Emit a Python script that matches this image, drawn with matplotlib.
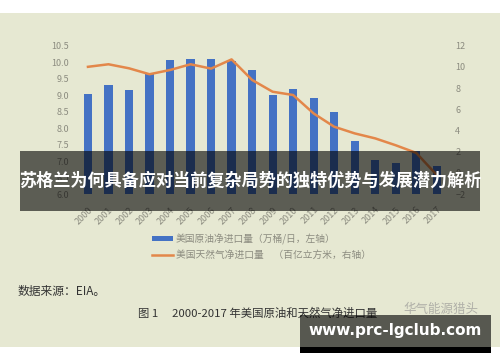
import matplotlib
matplotlib.use("Agg")
import matplotlib.pyplot as plt
from matplotlib.patches import Rectangle
import numpy as np

plt.rcParams["font.family"] = ["Noto Sans CJK SC", "DejaVu Sans"]

years = [str(y) for y in range(2000, 2018)]
oil = [9.04, 9.32, 9.16, 9.65, 10.07, 10.10, 10.10, 10.04, 9.77,
       8.99, 9.19, 8.90, 8.49, 7.62, 7.02, 6.94, 7.30, 6.85]
gas = [10.0, 10.24, 9.86, 9.3, 9.7, 10.24, 9.83, 10.7, 8.76,
       7.65, 7.34, 5.6, 4.35, 3.72, 3.25, 2.6, 1.88, -0.2]
left_ticks = [6.0, 6.5, 7.0, 7.5, 8.0, 8.5, 9.0, 9.5, 10.0, 10.5]
right_ticks = [-2, 0, 2, 4, 6, 8, 10, 12]
oil_label = "美国原油净进口量（万桶/日，左轴）"
gas_label = "美国天然气净进口量　（百亿立方米，右轴）"
banner = "苏格兰为何具备应对当前复杂局势的独特优势与发展潜力解析"

BG, BLUE, ORANGE, GREY = "#e6e8d2", "#4472c4", "#e3874a", "#8c8c80"
W, H = 500, 362


def px(x, y, w, h):      # pixel box (top-left origin) -> figure fraction
    return (x / W, 1 - (y + h) / H), w / W, h / H


def rect(x, y, w, h, **kw):
    xy, fw, fh = px(x, y, w, h)
    fig.patches.append(Rectangle(xy, fw, fh, transform=fig.transFigure, ec="none", **kw))


fig = plt.figure(figsize=(5, 3.62), dpi=100)
fig.patch.set_facecolor("white")
rect(0, 13, 500, 334, fc=BG, zorder=-5)

ax = fig.add_axes([0.1554, 0.464, 0.7386, 0.41])
ax.set_facecolor("none")
x = np.arange(len(years))
ax.bar(x, oil, width=0.4, color=BLUE, zorder=2)
ax.set_ylim(6.0, 10.5)
ax.set_xlim(-0.5, len(years) - 0.5)
ax.set_yticks(left_ticks)
ax.set_yticklabels([f"{v:.1f}" for v in left_ticks])
ax.set_xticks(x)
ax.set_xticklabels(years, rotation=45, ha="right", rotation_mode="anchor")

ax2 = ax.twinx()
ax2.plot(x, gas, color=ORANGE, lw=1.8, zorder=3)
ax2.set_ylim(-2, 12)
ax2.set_yticks(right_ticks)

for a in (ax, ax2):
    for s in a.spines.values():
        s.set_visible(False)
    a.tick_params(length=0, labelsize=6.5, colors=GREY, pad=6)
ax.tick_params(axis="x", pad=8)

# legend drawn in figure coords
rect(152, 236, 21, 5, fc=BLUE)
fig.lines.append(plt.Line2D([152 / W, 173 / W], [1 - 255 / H] * 2,
                            transform=fig.transFigure, color=ORANGE, lw=1.8))
fig.text(176 / W, 1 - 239 / H, oil_label, fontsize=7, color=GREY, va="center")
fig.text(176 / W, 1 - 255 / H, gas_label, fontsize=7, color=GREY, va="center")

fig.text(18 / W, 1 - 291 / H, "数据来源：EIA。", fontsize=8.5, color="#333333", va="center")
fig.text(138 / W, 1 - 313 / H, "图 1　 2000-2017 年美国原油和天然气净进口量",
         fontsize=8.2, color="#333333", va="center")
fig.text(403 / W, 1 - 310 / H, "华气能源猎头", fontsize=9, color="#b0b0a8", va="center")

# overlay banners from the screenshot
rect(20, 151, 460, 60, fc="black", alpha=0.6, zorder=5)
fig.text(250 / W, 1 - 181 / H, banner, fontsize=12.3, fontweight="bold",
         color="white", ha="center", va="center", zorder=6)

rect(300, 315, 191, 32, fc="black", alpha=0.62, zorder=5)
rect(300, 347, 191, 6, fc="black", zorder=5)
fig.text(395 / W, 1 - 331 / H, "www.prc-lgclub.com", fontsize=11, fontweight="bold",
         color="white", ha="center", va="center", zorder=6, family="DejaVu Sans")

fig.savefig("out.png", dpi=100)
